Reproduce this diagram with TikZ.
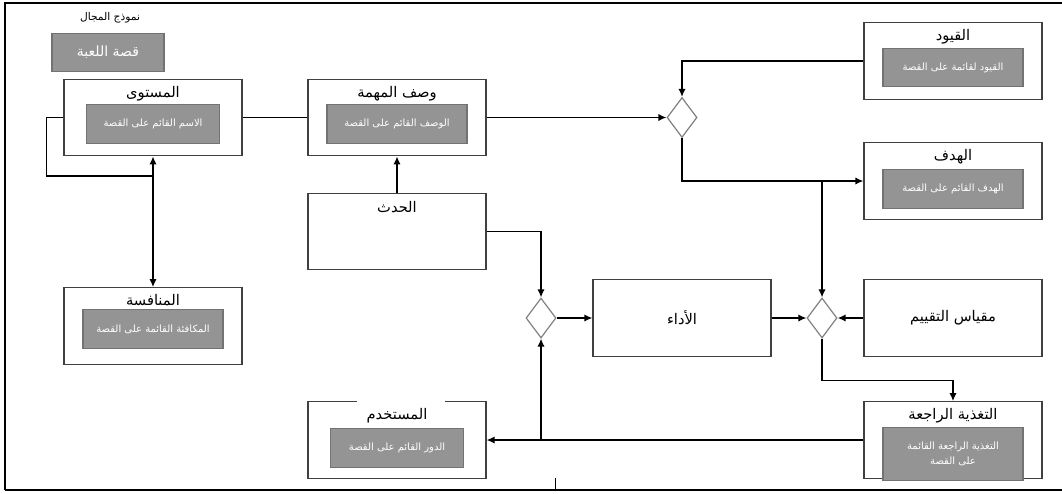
\documentclass[tikz,border=0pt]{standalone}
\usepackage{fontspec}
\newfontfamily\arabicfont[Script=Arabic]{DejaVu Sans}
\TeXXeTstate=1
\usepackage{tikz}
\usetikzlibrary{positioning, shapes.geometric, arrows.meta}
\tikzset{story box/.style={rectangle,draw=black!75,line width=0.9pt,fill=white,minimum width=133.5pt,minimum height=57.5pt,inner sep=0pt,font=\arabicfont\fontsize{11}{13}\selectfont}}
\tikzset{inner box/.style={rectangle,fill=black!42,draw=black!55,line width=0.8pt,minimum width=105pt,minimum height=29pt,inner sep=1pt,text=white,align=center,font=\arabicfont\fontsize{7.5}{11}\selectfont}}
\tikzset{box title/.style={inner sep=1pt,font=\arabicfont\fontsize{11}{13}\selectfont}}
\tikzset{gate/.style={diamond,draw=black!50,line width=0.9pt,fill=white,minimum width=22.5pt,minimum height=30pt,inner sep=0pt}}
\newcommand{\arabtxt}[1]{\beginR#1\endR}

\begin{document}
\begin{tikzpicture}[x=0.75pt,y=-0.75pt,>={Latex[length=6pt,width=5.5pt]},line width=1.1pt]
            \useasboundingbox (0,0) rectangle (1062,493);
            % frame
            \draw[line width=1.6pt] (5,490) -- (5,3) -- (1062,3);
            \draw[line width=1.6pt] (5,490) -- (1062,490);
            \draw[line width=0.5pt] (555,478) -- (555,490);

            % domain model
            \node[box title, font=\arabicfont\fontsize{8}{10}\selectfont] (domain) at (110,18) {\arabtxt{نموذج المجال}};
            \node[inner box, minimum width=84pt, font=\arabicfont\fontsize{10.5}{12}\selectfont] (story) at (108,52.5) {\arabtxt{قصة اللعبة}};

            % boxes with a story part
            \node[story box] (level) at (153,117.5) {};
            \node[box title, below=4pt of level.north] (levelT) {\arabtxt{المستوى}};
            \node[inner box, minimum width=100pt, below=1pt of levelT] (levelI) {\arabtxt{الاسم القائم على القصة}};

            \node[story box] (task) at (397,117.5) {};
            \node[box title, below=4pt of task.north] (taskT) {\arabtxt{وصف المهمة}};
            \node[inner box, below=1pt of taskT] (taskI) {\arabtxt{الوصف القائم على القصة}};

            \node[story box] (event) at (397,231.5) {};
            \node[box title, below=5pt of event.north] (eventT) {\arabtxt{الحدث}};

            \node[story box] (rival) at (153,326) {};
            \node[box title, below=4pt of rival.north] (rivalT) {\arabtxt{المنافسة}};
            \node[inner box, below=1pt of rivalT] (rivalI) {\arabtxt{المكافئة القائمة على القصة}};

            \node[story box] (limits) at (953,61) {};
            \node[box title, below=4pt of limits.north] (limitsT) {\arabtxt{القيود}};
            \node[inner box, below=1pt of limitsT] (limitsI) {\arabtxt{القيود لقائمة على القصة}};

            \node[story box] (goal) at (953,181) {};
            \node[box title, below=4pt of goal.north] (goalT) {\arabtxt{الهدف}};
            \node[inner box, below=2pt of goalT] (goalI) {\arabtxt{الهدف القائم على القصة}};

            \node[story box] (perf) at (682,318) {\arabtxt{الأداء}};
            \node[story box] (metric) at (953,318) {\arabtxt{مقياس التقييم}};

            \node[story box] (feedback) at (953,440) {};
            \node[box title, below=4pt of feedback.north] (feedbackT) {\arabtxt{التغذية الراجعة}};
            \node[inner box, minimum height=40pt, below=1pt of feedbackT] (feedbackI) {\arabtxt{التغذية الراجعة القائمة}\\ \arabtxt{على القصة}};

            \node[story box] (user) at (397,440) {};
            \fill[white] (357,399) rectangle (445,405);
            \node[box title, below=4pt of user.north] (userT) {\arabtxt{المستخدم}};
            \node[inner box, minimum width=100pt, below=2pt of userT] (userI) {\arabtxt{الدور القائم على القصة}};

            % gates
            \node[gate] (g1) at (682,117.5) {};
            \node[gate] (g2) at (541,318) {};
            \node[gate] (g3) at (822,318) {};

            % connectors
            \draw (level.east) -- (task.west);
            \draw[->] (task.east) -- (g1.west);
            \draw[->] (limits.west) -| (g1.north);
            \draw[->] (g1.south) |- (goal.west);
            \draw[->] (g3.north |- goal.west) -- (g3.north);
            \draw[->] (event.north) -- (task.south);
            \draw[->] (event.east) -| (g2.north);
            \draw[->] (g2.east) -- (perf.west);
            \draw[->] (perf.east) -- (g3.west);
            \draw[->] (metric.west) -- (g3.east);
            \draw[->] (g3.south) -- ++(0,42) -| (feedback.north);
            \draw[->] (feedback.west) -- (user.east);
            \draw[->] (g2.south |- user.east) -- (g2.south);
            \coordinate (levelturn) at (153,176);
            \draw (level.west) -- ++(-17,0) |- (levelturn);
            \draw[<->] (level.south) -- (rival.north);
        \end{tikzpicture}
\end{document}
